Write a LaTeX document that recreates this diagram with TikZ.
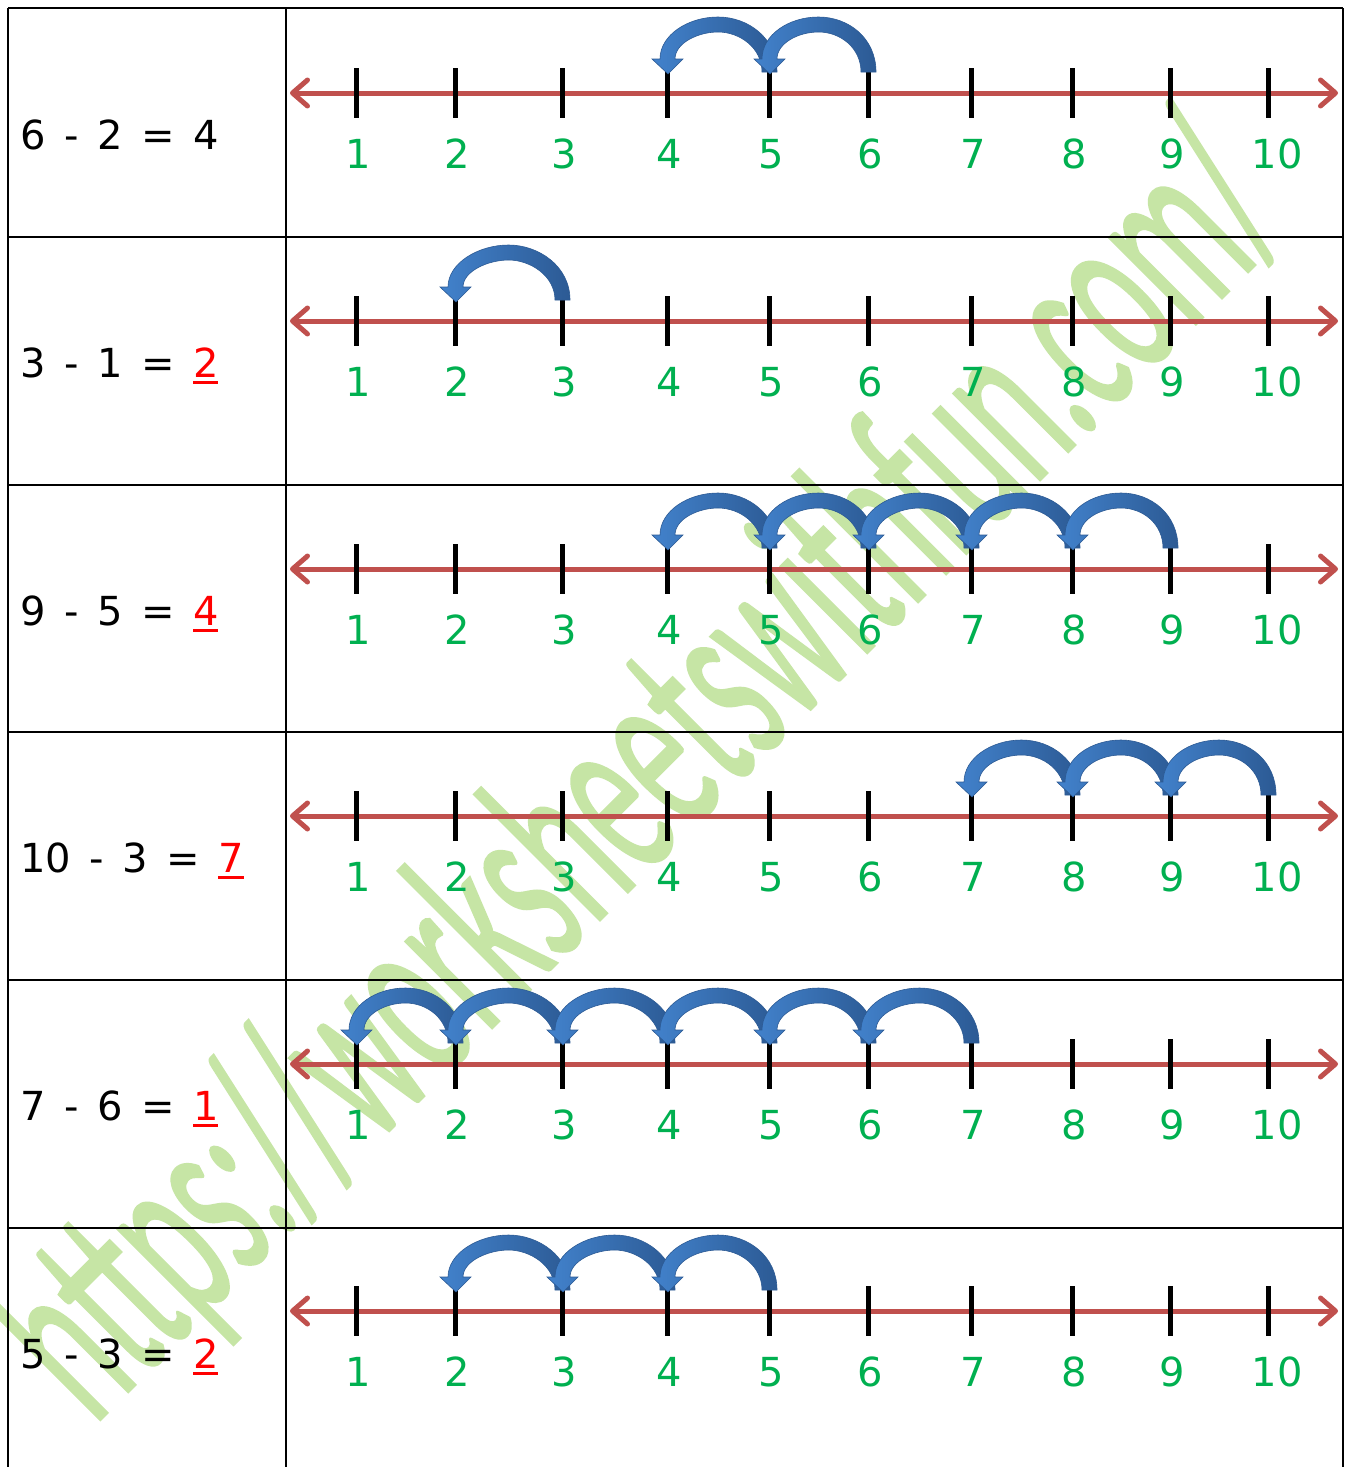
\documentclass[tikz,border=0pt]{standalone}
\usepackage{fontspec}
\setmainfont{DejaVu Sans}
\newfontfamily\wmfont[FakeBold=1]{Carlito}
\usetikzlibrary{arrows.meta}
\definecolor{nlred}{HTML}{C0504D}
\definecolor{lblgreen}{HTML}{00B050}
\definecolor{arclight}{HTML}{4282CC}
\definecolor{arcdark}{HTML}{2C5A94}
\definecolor{wmgreen}{HTML}{C6E5A5}
\def\tx{{0,356,455,562,667,769,868,971,1072,1170,1268}}
\newcommand\gap{\hspace{18.5pt}}
\newcommand\ans[1]{\textcolor{red}{\setbox0\hbox{#1}\rlap{\rule[-7pt]{\wd0}{3pt}}\box0}}
\newcommand\jump[3]{%
  \pgfmathsetmacro\xa{\tx[#2]}\pgfmathsetmacro\xb{\tx[#3]}\pgfmathsetmacro\xm{(\xa+\xb)/2}%
  \shade[arcshade] (\xa+8,#1-21) .. controls (\xa+8,#1-55) and (\xm+30,#1-76) .. (\xm,#1-76)
    .. controls (\xm-30,#1-76) and (\xb-7,#1-58) .. (\xb-7,#1-34)
    -- (\xb-15,#1-34) -- (\xb+1,#1-19) -- (\xb+16,#1-34) -- (\xb+8,#1-34)
    .. controls (\xb+8,#1-50) and (\xm-20,#1-61) .. (\xm,#1-61)
    .. controls (\xm+22,#1-61) and (\xa-7,#1-45) .. (\xa-7,#1-21) -- cycle;}
\begin{document}
\begin{tikzpicture}[x=1pt,y=-1pt,
  tbl/.style={line width=2.5pt,black},
  numline/.style={line width=5pt,nlred,{Straight Barb[length=15pt,width=26pt,round]}-{Straight Barb[length=15pt,width=26pt,round]}},
  tick/.style={line width=5pt,black},
  lbl/.style={font=\fontsize{40}{40}\selectfont,text=lblgreen,anchor=base,inner sep=0pt},
  eqn/.style={font=\fontsize{40}{40}\selectfont,anchor=base west,inner sep=0pt},
  arcshade/.style={left color=arclight,right color=arcdark,draw=arcdark,line width=0.6pt},
  wm/.style={font=\wmfont\fontsize{128}{128}\selectfont,text=wmgreen,anchor=base,inner sep=0pt,rotate=45,yscale=2,transform shape}]
\useasboundingbox (0,0) rectangle (1352,1467);
\fill[white] (0,0) rectangle (1352,1467);
% watermark
\node[wm] (wm) at (695,825) {https://worksheetswithfun.com/};
% table
\draw[tbl] (8,8) -- (1343,8);
\foreach \hy in {237,485,732,980,1228} \draw[tbl] (8,\hy) -- (1343,\hy);
\draw[tbl] (8,8) -- (8,1467);
\draw[tbl] (286,8) -- (286,1467);
\draw[tbl] (1343,8) -- (1343,1467);
% number lines
\foreach \r/\y in {1/93,2/321,3/569,4/816,5/1064,6/1311}{
  \coordinate (L\r) at (290,\y);
  \coordinate (R\r) at (1338,\y);
  \draw[numline] (L\r) -- (R\r);
  \foreach \n in {1,...,10}{
    \pgfmathsetmacro\xx{\tx[\n]}
    \coordinate (t\r-\n) at (\xx,\y);
    \draw[tick] (\xx,\y-25) -- (\xx,\y+25);
    \pgfmathsetmacro\off{ifthenelse(\n==10,9,2)}
    \node[lbl] (n\r-\n) at (\xx+\off,\y+75) {\n};
  }
}
% jumps
\jump{93}{5}{4}\jump{93}{6}{5}
\jump{321}{3}{2}
\foreach \k in {5,...,9}{\pgfmathtruncatemacro\kk{\k-1}\jump{569}{\k}{\kk}}
\foreach \k in {8,9,10}{\pgfmathtruncatemacro\kk{\k-1}\jump{816}{\k}{\kk}}
\foreach \k in {2,...,7}{\pgfmathtruncatemacro\kk{\k-1}\jump{1064}{\k}{\kk}}
\foreach \k in {3,4,5}{\pgfmathtruncatemacro\kk{\k-1}\jump{1311}{\k}{\kk}}
% equations
\node[eqn] (e1) at (20,149) {6\gap-\gap2\gap=\gap4};
\node[eqn] (e2) at (20,377) {3\gap-\gap1\gap=\gap\ans{2}};
\node[eqn] (e3) at (20,625) {9\gap-\gap5\gap=\gap\ans{4}};
\node[eqn] (e4) at (20,872) {10\gap-\gap3\gap=\gap\ans{7}};
\node[eqn] (e5) at (20,1120) {7\gap-\gap6\gap=\gap\ans{1}};
\node[eqn] (e6) at (20,1368) {5\gap-\gap3\gap=\gap\ans{2}};
\end{tikzpicture}
\end{document}
